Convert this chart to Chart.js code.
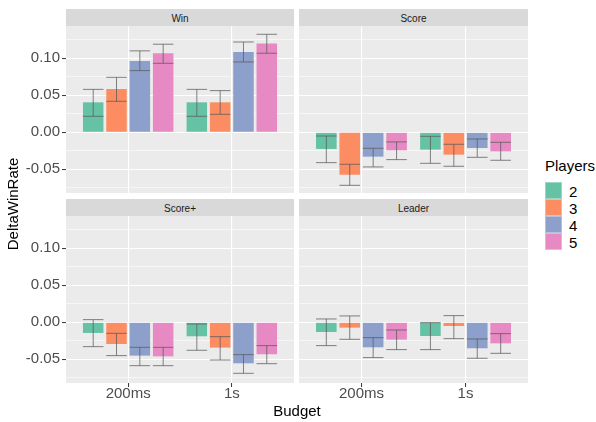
<!DOCTYPE html>
<html><head><meta charset="utf-8">
<script src="https://cdn.jsdelivr.net/npm/chart.js@4"></script>
<style>
body{margin:0;background:#fff;}
#wrap{position:relative;width:596px;height:422px;font-family:"Liberation Sans",Arial,sans-serif;overflow:hidden;background:#fff;}
canvas{position:absolute;}
.strip{position:absolute;background:#d9d9d9;color:#1a1a1a;font-size:10px;text-align:center;height:17px;line-height:17px;padding-top:1px;box-sizing:border-box;}
.txt{position:absolute;color:#000;font-size:15px;line-height:18px;white-space:nowrap;}
.key{position:absolute;width:17px;height:17px;box-sizing:border-box;border:1px solid rgba(255,255,255,0.35);}
.klab{position:absolute;font-size:15px;line-height:17px;color:#000;}
</style></head>
<body><div id="wrap">
<div class="strip" style="left:66px;top:9px;width:228px;">Win</div>
<div class="strip" style="left:299px;top:9px;width:229px;">Score</div>
<div class="strip" style="left:66px;top:199px;width:228px;">Score+</div>
<div class="strip" style="left:299px;top:199px;width:229px;">Leader</div>
<canvas id="cWin" width="294" height="167" style="left:0;top:26px;"></canvas>
<canvas id="cScore" width="229" height="167" style="left:299px;top:26px;"></canvas>
<canvas id="cScorePlus" width="294" height="206" style="left:0;top:216px;"></canvas>
<canvas id="cLeader" width="229" height="206" style="left:299px;top:216px;"></canvas>
<div class="txt" style="left:-62px;top:195px;width:150px;text-align:center;transform:rotate(-90deg);">DeltaWinRate</div>
<div class="txt" style="left:197px;top:402px;width:200px;text-align:center;">Budget</div>
<div class="txt" style="left:545px;top:157px;">Players</div>
<div id="legend"></div>
</div>
<script>
// ---- data ----
const categories = ['200ms', '1s'];
const players = ['2', '3', '4', '5'];
const yMajorTicks = [-0.05, 0, 0.05, 0.10];
const yMinorTicks = [-0.075, -0.025, 0.025, 0.075, 0.125];

// rows = players 2,3,4,5 ; columns = budgets 200ms, 1s
const winMean  = [[0.0405, 0.0405], [0.0586, 0.0405], [0.0964, 0.1086], [0.1068, 0.1198]];
const winLow   = [[0.0216, 0.0216], [0.0419, 0.0243], [0.0833, 0.0950], [0.0932, 0.1068]];
const winHigh  = [[0.0580, 0.0580], [0.0743, 0.0563], [0.1100, 0.1220], [0.1190, 0.1324]];

const scoreMean = [[-0.0225, -0.0234], [-0.0572, -0.0302], [-0.0329, -0.0212], [-0.0243, -0.0257]];
const scoreLow  = [[-0.0410, -0.0419], [-0.0716, -0.0459], [-0.0468, -0.0338], [-0.0369, -0.0378]];
const scoreHigh = [[-0.0050, -0.0054], [-0.0432, -0.0162], [-0.0216, -0.0090], [-0.0130, -0.0135]];

const scorePlusMean = [[-0.0144, -0.0189], [-0.0293, -0.0342], [-0.0450, -0.0554], [-0.0460, -0.0432]];
const scorePlusLow  = [[-0.0329, -0.0378], [-0.0450, -0.0509], [-0.0586, -0.0689], [-0.0586, -0.0559]];
const scorePlusHigh = [[0.0036, -0.0023], [-0.0149, -0.0194], [-0.0338, -0.0437], [-0.0338, -0.0315]];

const leaderMean = [[-0.0131, -0.0185], [-0.0072, -0.0050], [-0.0338, -0.0351], [-0.0234, -0.0284]];
const leaderLow  = [[-0.0315, -0.0369], [-0.0230, -0.0221], [-0.0477, -0.0486], [-0.0369, -0.0419]];
const leaderHigh = [[0.0045, -0.0005], [0.0086, 0.0090], [-0.0207, -0.0225], [-0.0104, -0.0153]];

// ---- style ----
const playerColors = ['#66C2A5', '#FC8D62', '#8DA0CB', '#E78AC3'];
const FONT = '"Liberation Sans", Arial, sans-serif';
const Y_MIN = -0.082, Y_MAX = 0.1436;

const isMajor = v => yMajorTicks.some(m => Math.abs(m - v) < 1e-9);

const panelBg = {
  id: 'panelBg',
  beforeDraw(chart) {
    const { ctx, chartArea: a } = chart;
    ctx.save();
    ctx.fillStyle = '#ebebeb';
    ctx.fillRect(a.left, a.top, a.right - a.left, a.bottom - a.top);
    ctx.restore();
  }
};

const errorBars = {
  id: 'errorBars',
  afterDatasetsDraw(chart) {
    const ctx = chart.ctx, ys = chart.scales.y;
    ctx.save();
    ctx.strokeStyle = 'rgba(90,90,90,0.75)';
    ctx.lineWidth = 1;
    chart.data.datasets.forEach((ds, di) => {
      chart.getDatasetMeta(di).data.forEach((bar, i) => {
        const lo = ys.getPixelForValue(ds.errLow[i]);
        const hi = ys.getPixelForValue(ds.errHigh[i]);
        const hw = bar.width / 2;
        ctx.beginPath();
        ctx.moveTo(bar.x - hw, hi); ctx.lineTo(bar.x + hw, hi);
        ctx.moveTo(bar.x, hi); ctx.lineTo(bar.x, lo);
        ctx.moveTo(bar.x - hw, lo); ctx.lineTo(bar.x + hw, lo);
        ctx.stroke();
      });
    });
    ctx.restore();
  }
};

function makeChart(id, mean, low, high, showY, showX) {
  const datasets = players.map((p, pi) => ({
    label: p,
    data: categories.map((c, ci) => ({ x: ci + 1, y: mean[pi][ci] })),
    errLow: low[pi],
    errHigh: high[pi],
    backgroundColor: playerColors[pi],
    borderWidth: 0,
    categoryPercentage: 0.9,
    barPercentage: 0.88
  }));
  return new Chart(document.getElementById(id), {
    type: 'bar',
    data: { datasets },
    options: {
      responsive: false, animation: false, devicePixelRatio: 1,
      layout: { padding: 0 },
      plugins: { legend: { display: false }, tooltip: { enabled: false } },
      scales: {
        x: {
          type: 'linear', min: 0.4, max: 2.6, offset: false,
          afterBuildTicks: s => { s.ticks = categories.map((c, i) => ({ value: i + 1 })); },
          afterFit: s => { s.height = showX ? 39 : 0; s.paddingLeft = 0; s.paddingRight = 0; },
          ticks: {
            display: showX, autoSkip: false, maxRotation: 0, minRotation: 0, padding: -2,
            color: '#4d4d4d', font: { family: FONT, size: 15 },
            callback: v => categories[Math.round(v) - 1]
          },
          grid: { offset: false, color: '#ffffff', lineWidth: 1.1, drawTicks: showX, tickLength: 4, tickColor: '#333333', tickWidth: 1 },
          border: { display: false }
        },
        y: {
          type: 'linear', min: Y_MIN, max: Y_MAX,
          afterBuildTicks: s => { s.ticks = yMajorTicks.concat(yMinorTicks).sort((a, b) => a - b).map(v => ({ value: v })); },
          afterFit: s => { s.width = showY ? 66 : 0; s.paddingTop = 0; s.paddingBottom = 0; },
          ticks: {
            display: showY, autoSkip: false, padding: 2,
            color: '#4d4d4d', font: { family: FONT, size: 15 },
            callback: v => isMajor(v) ? v.toFixed(2) : ''
          },
          grid: {
            color: '#ffffff',
            lineWidth: c => (c.tick && isMajor(c.tick.value)) ? 1.1 : 0.55,
            drawTicks: showY, tickLength: 4, tickWidth: 1,
            tickColor: c => (c.tick && isMajor(c.tick.value)) ? '#333333' : 'rgba(0,0,0,0)'
          },
          border: { display: false }
        }
      }
    },
    plugins: [panelBg, errorBars]
  });
}

makeChart('cWin', winMean, winLow, winHigh, true, false);
makeChart('cScore', scoreMean, scoreLow, scoreHigh, false, false);
makeChart('cScorePlus', scorePlusMean, scorePlusLow, scorePlusHigh, true, true);
makeChart('cLeader', leaderMean, leaderLow, leaderHigh, false, true);

// legend
const lg = document.getElementById('legend');
players.forEach((p, i) => {
  const k = document.createElement('div');
  k.className = 'key';
  k.style.left = '545px'; k.style.top = (182 + 17 * i) + 'px';
  k.style.background = playerColors[i];
  lg.appendChild(k);
  const t = document.createElement('div');
  t.className = 'klab';
  t.style.left = '569px'; t.style.top = (183 + 17 * i) + 'px';
  t.textContent = p;
  lg.appendChild(t);
});
</script>
</body></html>
